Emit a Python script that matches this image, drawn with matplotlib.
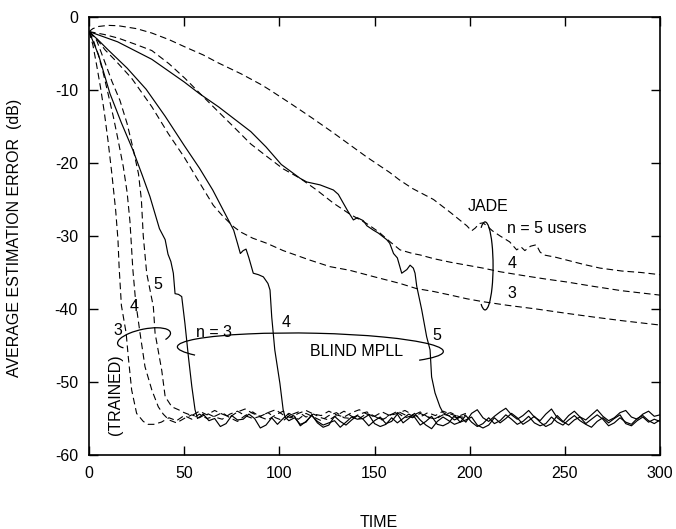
import numpy as np
import matplotlib
matplotlib.use('Agg')
import matplotlib.pyplot as plt
from matplotlib.patches import Arc
from matplotlib.transforms import ScaledTranslation

plt.rcParams['font.family'] = ['Liberation Sans', 'DejaVu Sans']
plt.rcParams['font.size'] = 11.5

# ---- BLIND MPLL (solid), transient part ----
blind3_t = [0, 5, 11, 17, 23, 28, 32, 37, 40, 41.5, 43, 44.3, 45.2, 47, 48.7, 50.4, 52.2, 54, 55.7]
blind3_db = [-2.0, -5.2, -10.5, -14.5, -18.2, -21.7, -24.6, -29.0, -30.5, -32.5, -33.5, -35.1, -37.9,
             -38.0, -38.3, -42.0, -46.5, -50.6, -53.8]

blind4_t = [0, 5, 10, 20, 30, 40, 50, 58, 65, 72, 76, 78, 79.5, 81, 82.5, 84, 86.3, 89, 91.6, 94,
            95.1, 96, 97.6, 100.3, 102, 103]
blind4_db = [-2.0, -3.2, -4.5, -7.0, -9.9, -13.6, -17.6, -20.7, -23.7, -27.2, -29.2, -31.0, -32.4,
             -32.0, -31.8, -33.0, -35.1, -35.3, -35.6, -36.5, -37.4, -41.1, -45.6, -50.2, -53.8, -54.8]

blind5_t = [0, 15, 33, 50, 58, 68, 76, 85, 93, 101, 110.9, 114.4, 121.4, 128.4, 131, 133.6, 136,
            138.9, 141, 144.1, 146, 149.4, 152, 156.4, 158, 160, 162, 164.3, 167, 168.7, 170.4,
            171.3, 172.2, 174.8, 177.4, 179.2, 180, 181.8, 184.4, 186]
blind5_db = [-2.0, -3.4, -5.8, -8.9, -10.5, -12.3, -13.9, -15.7, -17.8, -20.2, -22.1, -22.6, -23.0,
             -23.7, -24.3, -25.5, -26.6, -27.8, -27.5, -27.9, -28.6, -29.2, -29.6, -30.5, -31.0,
             -32.4, -33.0, -35.1, -34.6, -34.0, -34.4, -35.1, -36.9, -40.1, -43.8, -45.6, -49.3,
             -51.5, -53.4, -54.2]

# noise floor after convergence (every 3 time units)
blind3_floor = [-55.0, -54.4, -55.3, -55.0, -56.1, -55.7, -54.6, -55.2, -55.1, -54.4,
                -55.0, -56.3, -55.9, -54.9, -55.8, -55.0, -54.3, -54.7, -56.0, -55.4,
                -54.6, -55.4, -55.9, -55.6, -55.3, -56.2, -55.5, -54.8, -55.1, -55.0,
                -54.5, -55.7, -56.1, -55.8, -54.9, -55.6, -55.0, -54.4, -54.8, -55.9,
                -55.4, -54.7, -55.8, -56.0, -55.6, -54.6, -55.5, -55.2, -54.8, -55.9,
                -56.3, -55.9, -54.9, -55.6, -55.0, -54.3, -54.9, -55.8, -55.3, -54.7,
                -55.5, -56.1, -55.7, -54.6, -55.4, -55.9, -55.2, -54.8, -55.7, -55.1,
                -54.5, -55.1, -56.0, -55.6, -54.9, -55.5, -55.8, -55.0, -54.6, -55.3,
                -55.7, -55.2]
blind4_floor = [-55.3, -54.9, -55.8, -55.5, -54.5, -55.6, -56.2, -55.9, -54.7, -55.4,
                -55.9, -55.2, -54.6, -55.1, -56.0, -55.3, -54.8, -55.7, -55.4, -54.4,
                -55.6, -55.0, -54.3, -55.2, -55.9, -56.4, -55.4, -54.8, -55.3, -55.8,
                -55.5, -54.6, -55.5, -56.1, -55.7, -54.9, -55.7, -55.3, -54.5, -55.1,
                -55.8, -55.4, -54.7, -55.6, -56.0, -55.7, -54.8, -55.5, -55.9, -55.2,
                -54.6, -55.3, -55.8, -56.2, -55.4, -54.9, -55.6, -55.0, -54.5, -55.7,
                -56.0, -55.3, -54.8, -55.5, -55.1, -55.4]
blind5_floor = [-54.6, -55.2, -54.8, -55.5, -54.3, -53.8, -54.9, -55.4, -54.7, -54.1,
                -53.6, -54.5, -55.1, -54.6, -53.9, -54.8, -55.3, -54.4, -53.7, -54.9,
                -55.5, -54.6, -54.0, -54.8, -55.2, -54.5, -53.8, -54.7, -55.3, -54.9,
                -54.2, -53.9, -54.8, -55.1, -54.4, -54.0, -54.7, -54.5]

# ---- trained (dashed), transient part ----
trained3_t = [0, 2, 4, 6, 8, 10, 12, 14, 15.2, 15.8, 17, 19.5, 20.6, 22.4, 25, 28.5, 31]
trained3_db = [-2.0, -3.8, -6.6, -9.6, -13.0, -17.0, -21.5, -26.5, -30.5, -34.2, -39.5, -43.3,
               -46.5, -51.1, -54.3, -55.4, -55.8]
trained4_t = [0, 2.3, 5, 7.5, 10, 12.8, 15, 18, 20, 21.5, 22.2, 23, 24.5, 26.8, 29.4, 33, 36.4, 39]
trained4_db = [-2.0, -3.2, -5.3, -7.7, -10.5, -13.7, -16.5, -20.5, -24.0, -28.0, -31.0, -34.5,
               -39.0, -43.3, -47.9, -51.1, -53.4, -54.4]
trained5_t = [0, 4, 9.2, 12, 16.2, 20, 23.3, 26, 27.5, 28.5, 30.3, 33.8, 34.7, 38.2, 40, 43.5, 47]
trained5_db = [-2.0, -3.2, -6.8, -8.8, -11.4, -14.6, -18.2, -21.5, -25.0, -30.0, -35.1, -39.7,
               -43.3, -48.4, -52.0, -53.4, -53.8]

# noise floor (every 4 time units)
trained3_floor = [-55.8, -55.5, -54.9, -55.3, -54.6, -55.1, -54.4, -55.0, -54.7, -54.2,
                  -54.9, -55.4, -54.6, -54.1, -54.8, -55.2, -54.5, -54.0, -54.7, -55.1,
                  -54.3, -54.8, -55.3, -54.6, -54.2, -54.9, -55.0, -54.4, -54.1, -54.7,
                  -55.2, -54.6, -54.0, -54.5, -54.9, -54.3, -54.8, -55.1, -54.5, -54.2,
                  -54.7, -54.9]
trained4_floor = [-55.2, -55.6, -55.0, -54.5, -54.9, -54.3, -54.8, -55.1, -54.4, -54.0,
                  -54.6, -55.0, -54.7, -54.2, -54.9, -55.3, -54.5, -54.1, -54.8, -54.4,
                  -54.9, -55.2, -54.6, -54.0, -54.7, -55.0, -54.3, -54.8, -55.1, -54.5,
                  -54.2, -54.9, -54.6, -54.1, -54.8, -55.0, -54.4, -54.7, -54.9, -54.5]
trained5_floor = [-54.2, -54.6, -54.0, -54.5, -53.9, -54.4, -54.8, -54.1, -53.7, -54.3,
                  -54.7, -54.2, -53.8, -54.5, -54.9, -54.3, -53.9, -54.4, -54.6, -54.0,
                  -54.5, -54.8, -54.2, -53.8, -54.4, -54.7, -54.1, -54.6, -54.3, -53.9,
                  -54.5, -54.8, -54.2, -54.6, -54.0, -54.4, -54.7, -54.3]

# ---- JADE (dashed) ----
jade5_t = [0, 2, 5, 10, 15.4, 25, 33, 42, 50.4, 60, 68, 80, 90.7, 95, 105.6, 117, 128, 137, 146,
           158, 163, 170, 181, 190, 198.5, 201, 203, 205, 207, 209, 212, 216, 221, 224.7, 227, 229,
           232, 235, 237, 239, 245, 251, 260, 268.5, 280, 290, 300]
jade5_db = [-2.0, -1.6, -1.3, -1.15, -1.2, -1.6, -2.2, -3.1, -4.1, -5.2, -6.3, -7.8, -9.3, -10.0,
            -11.8, -13.8, -15.8, -17.5, -19.2, -21.3, -22.3, -23.5, -25.0, -26.8, -28.6, -29.3,
            -28.9, -28.3, -28.2, -28.6, -29.3, -30.0, -30.8, -31.9, -31.5, -32.0, -31.4, -31.2,
            -32.2, -32.6, -32.9, -33.3, -33.9, -34.4, -34.8, -35.0, -35.3]
jade4_t = [0, 8, 15.4, 25, 33, 42, 50.4, 58, 65.3, 75.8, 85, 93.4, 102, 110.9, 119.6, 128.4, 137,
           145.9, 152, 158.2, 163.4, 170, 174, 181, 190, 198.5, 207, 216, 230, 240, 251, 265, 280,
           290, 300]
jade4_db = [-2.0, -2.4, -2.9, -3.8, -4.6, -6.4, -8.4, -10.4, -12.3, -15.0, -17.4, -19.1, -20.8,
            -22.1, -23.7, -25.5, -27.0, -28.3, -29.4, -30.8, -31.9, -32.4, -32.6, -33.1, -33.6,
            -34.0, -34.4, -34.9, -35.5, -35.9, -36.3, -36.9, -37.5, -37.8, -38.1]
jade3_t = [0, 4, 8.4, 14, 22.4, 33, 41.7, 50, 58.3, 65.3, 70, 75.8, 80, 86, 93.4, 102, 116, 126.6,
           137, 150, 163.4, 172, 181, 190, 198.5, 207, 220, 235, 251, 265, 280, 300]
jade3_db = [-2.0, -3.0, -4.5, -6.0, -8.4, -12.3, -16.0, -19.2, -22.8, -25.8, -27.2, -28.7, -29.5,
            -30.3, -31.0, -32.0, -33.3, -34.2, -34.7, -35.6, -36.5, -37.2, -37.6, -38.1, -38.6,
            -39.0, -39.5, -40.0, -40.6, -41.1, -41.6, -42.2]


def join(t, db, floor, start, step):
    ft = start + step * np.arange(len(floor))
    return np.concatenate([t, ft]), np.concatenate([db, floor])


fig = plt.figure(figsize=(6.76, 5.29), dpi=100)
ax = fig.add_subplot(1, 1, 1)
fig.subplots_adjust(left=0.1317, right=0.9763, top=0.9679, bottom=0.1399)

dash = dict(color='black', lw=0.8, dashes=(6, 3.5))
solid = dict(color='black', lw=0.85)

for t, db, fl, s in [(trained3_t, trained3_db, trained3_floor, 34),
                     (trained4_t, trained4_db, trained4_floor, 42),
                     (trained5_t, trained5_db, trained5_floor, 50)]:
    x, y = join(t, db, fl, s, 4)
    ax.plot(x, y, **dash)

for t, db in [(jade5_t, jade5_db), (jade4_t, jade4_db), (jade3_t, jade3_db)]:
    ax.plot(t, db, **dash)

for t, db, fl, s in [(blind3_t, blind3_db, blind3_floor, 57),
                     (blind4_t, blind4_db, blind4_floor, 105),
                     (blind5_t, blind5_db, blind5_floor, 189)]:
    x, y = join(t, db, fl, s, 3)
    ax.plot(x, y, **solid)


def polar(a, b, th):
    # parametric ellipse angle -> polar angle used by Arc
    r = np.radians(th)
    return np.degrees(np.arctan2(b * np.sin(r), a * np.cos(r)))


def bracket(cx, cy, w, h, rot, th1, th2):
    # ellipse drawn in pixel units around a data point
    tr = fig.dpi_scale_trans + ScaledTranslation(cx, cy, ax.transData)
    p1 = polar(w, h, th1)
    p2 = polar(w, h, th2)
    if p2 <= p1:
        p2 += 360
    ax.add_patch(Arc((0, 0), w / 100, h / 100, angle=rot, theta1=p1, theta2=p2,
                     transform=tr, color='black', lw=0.9))


bracket(28.9, -44.0, 54, 18, 12, -40, 215)
bracket(116.3, -45.5, 266, 32, -1, -35, 210)
bracket(208.1, -34.1, 16, 88, 0, -120, 120)

txt = dict(ha='center', va='center', fontsize=11.5)
ax.text(209.7, -25.9, 'JADE', **txt)
ax.text(219.7, -29.0, 'n = 5 users', ha='left', va='center', fontsize=11.5)
ax.text(222.3, -33.8, '4', **txt)
ax.text(222.3, -37.9, '3', **txt)
ax.text(36.0, -36.7, '5', **txt)
ax.text(23.6, -39.7, '4', **txt)
ax.text(15.0, -42.9, '3', **txt)
ax.text(13.7, -51.8, '(TRAINED)', rotation=90, **txt)
ax.text(65.7, -43.2, 'n = 3', **txt)
ax.text(103.5, -41.8, '4', **txt)
ax.text(182.9, -43.7, '5', **txt)
ax.text(140.8, -45.8, 'BLIND MPLL', **txt)

ax.set_xlim(0, 300)
ax.set_ylim(-60, 0)
ax.set_xticks(range(0, 301, 50))
ax.set_yticks(range(-60, 1, 10))
ax.set_yticklabels([str(v) for v in range(-60, 1, 10)])
ax.tick_params(direction='in', length=6.5, width=1.0, top=True, right=True, pad=8, labelsize=11.5)
for sp in ax.spines.values():
    sp.set_linewidth(1.2)

fig.text(15 / 676, 1 - 238 / 529, 'AVERAGE ESTIMATION ERROR  (dB)', rotation=90,
         ha='center', va='center', fontsize=11.5)
fig.text(378.5 / 676, 1 - 522.5 / 529, 'TIME', ha='center', va='center', fontsize=11.5)

fig.savefig('out.png', dpi=100)
